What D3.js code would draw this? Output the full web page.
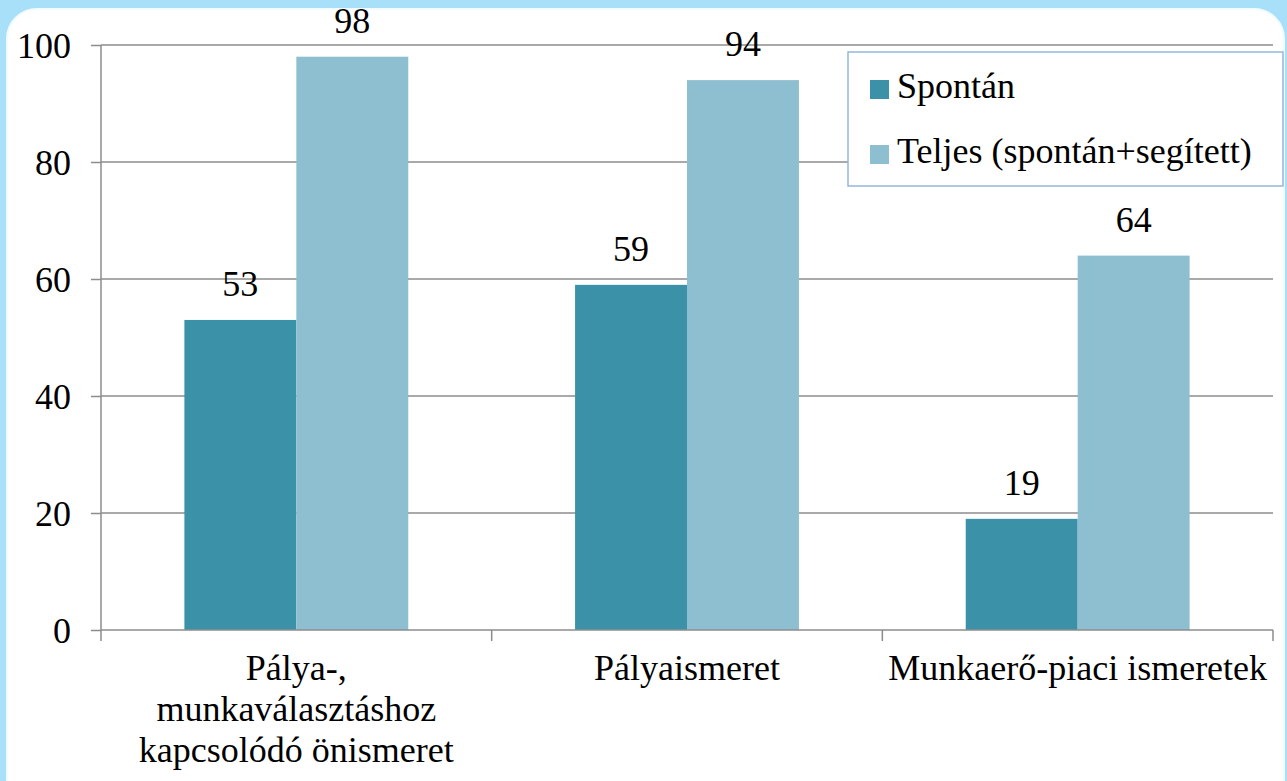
<!DOCTYPE html>
<html>
<head>
<meta charset="utf-8">
<script src="https://cdn.jsdelivr.net/npm/d3@7"></script>
</head>
<body style="margin:0">
<script>
var categories = [
    ["Pálya-,", "munkaválasztáshoz", "kapcsolódó önismeret"],
    ["Pályaismeret"],
    ["Munkaerő-piaci ismeretek"]
];
var seriesNames = ["Spontán", "Teljes (spontán+segített)"];
var spontan = [53, 59, 19];
var teljes = [98, 94, 64];
var yTicks = [0, 20, 40, 60, 80, 100];
var colors = ["#3b92a8", "#8ebfd1"];

var fontFamily = "Liberation Serif, Tinos, Times New Roman, serif";
var fontSize = 36;
var svgWidth = 1287, svgHeight = 781;
var margin = { top: 45, right: 14, bottom: 151, left: 101 };
var width = svgWidth - margin.left - margin.right;
var height = svgHeight - margin.top - margin.bottom;

function serif(sel) {
    return sel.attr("font-family", fontFamily)
        .attr("font-size", fontSize);
}

function draw() {
    var svg = d3.select("body").append("svg")
        .attr("width", svgWidth)
        .attr("height", svgHeight)
        .style("display", "block");

    // light blue frame and white panel
    svg.append("rect")
        .attr("width", svgWidth).attr("height", svgHeight)
        .attr("fill", "#a8dff9");
    svg.append("rect")
        .attr("x", 7).attr("y", 9)
        .attr("width", 1277).attr("height", 800)
        .attr("rx", 30).attr("ry", 30)
        .attr("fill", "#fff")
        .attr("stroke", "#f2fbff").attr("stroke-width", 2);

    var g = svg.append("g")
        .attr("transform", "translate(" + margin.left + "," + margin.top + ")");

    var x0 = d3.scaleBand()
        .domain(d3.range(categories.length))
        .range([0, width])
        .paddingInner(0)
        .paddingOuter(0);

    var x1 = d3.scaleBand()
        .domain([0, 1])
        .range([0, x0.bandwidth()])
        .paddingInner(0)
        .paddingOuter(0.745);

    var yscale = d3.scaleLinear()
        .domain([0, 100])
        .range([height, 0]);

    // gridlines
    g.append("g")
        .selectAll("line")
        .data(yTicks.filter(function(d) { return d > 0; }))
        .enter().append("line")
        .attr("x1", 0).attr("x2", width)
        .attr("y1", function(d) { return yscale(d); })
        .attr("y2", function(d) { return yscale(d); })
        .attr("stroke", "#8c8c8c")
        .attr("stroke-width", 1.5);

    // bars
    var rows = categories.map(function(c, i) { return [spontan[i], teljes[i]]; });
    var groups = g.selectAll(".grp")
        .data(rows)
        .enter().append("g")
        .attr("transform", function(d, i) { return "translate(" + x0(i) + ",0)"; });

    groups.selectAll("rect")
        .data(function(d) { return d; })
        .enter().append("rect")
        .attr("x", function(d, j) { return x1(j); })
        .attr("width", x1.bandwidth())
        .attr("y", function(d) { return yscale(d); })
        .attr("height", function(d) { return height - yscale(d); })
        .attr("fill", function(d, j) { return colors[j]; });

    groups.selectAll("text")
        .data(function(d) { return d; })
        .enter().append("text")
        .call(serif)
        .attr("x", function(d, j) { return x1(j) + x1.bandwidth() / 2; })
        .attr("y", function(d) { return yscale(d) - 24; })
        .attr("text-anchor", "middle")
        .text(function(d) { return d; });

    // y axis
    var yAxis = g.append("g")
        .call(d3.axisLeft(yscale).tickValues(yTicks).tickSize(10).tickPadding(20))
        .attr("font-family", fontFamily)
        .attr("font-size", fontSize);
    yAxis.selectAll("line, path").attr("stroke", "#8c8c8c").attr("stroke-width", 1.5);
    yAxis.select(".domain").attr("d", "M0," + height + "V0");
    yAxis.selectAll("text").call(serif).attr("fill", "#000").attr("dy", "0.34em");

    // x axis
    var xAxis = g.append("g")
        .attr("transform", "translate(0," + height + ")")
        .call(d3.axisBottom(x0).tickValues([]).tickSizeOuter(0));
    xAxis.select(".domain").attr("d", "M0,0H" + width).attr("stroke", "#8c8c8c").attr("stroke-width", 1.5);
    xAxis.selectAll(".sep")
        .data(d3.range(categories.length + 1))
        .enter().append("line")
        .attr("x1", function(i) { return i * x0.step(); })
        .attr("x2", function(i) { return i * x0.step(); })
        .attr("y1", 0).attr("y2", 11)
        .attr("stroke", "#8c8c8c").attr("stroke-width", 1.5);

    // category labels, one text per line
    categories.forEach(function(lines, i) {
        g.selectAll(".cat" + i)
            .data(lines)
            .enter().append("text")
            .call(serif)
            .attr("text-anchor", "middle")
            .attr("x", x0(i) + x0.bandwidth() / 2)
            .attr("y", function(d, k) { return height + 50 + k * 41; })
            .text(function(d) { return d; });
    });

    // legend
    var legend = svg.append("g").attr("transform", "translate(848,52)");
    legend.append("rect")
        .attr("width", 435).attr("height", 134)
        .attr("fill", "#fff")
        .attr("stroke", "#95b6de").attr("stroke-width", 1.5);
    var items = legend.selectAll(".item")
        .data(seriesNames)
        .enter().append("g")
        .attr("transform", function(d, i) { return "translate(22," + (28 + i * 65) + ")"; });
    items.append("rect")
        .attr("width", 19).attr("height", 19)
        .attr("fill", function(d, i) { return colors[i]; });
    items.append("text")
        .call(serif)
        .attr("x", 27).attr("y", 18)
        .text(function(d) { return d; });

    svg.selectAll("text").each(function() { this.getComputedTextLength(); });
}

if (document.fonts && document.fonts.load) {
    document.fonts.load("36px 'Liberation Serif'").then(draw, draw);
} else {
    draw();
}
</script>
</body>
</html>
